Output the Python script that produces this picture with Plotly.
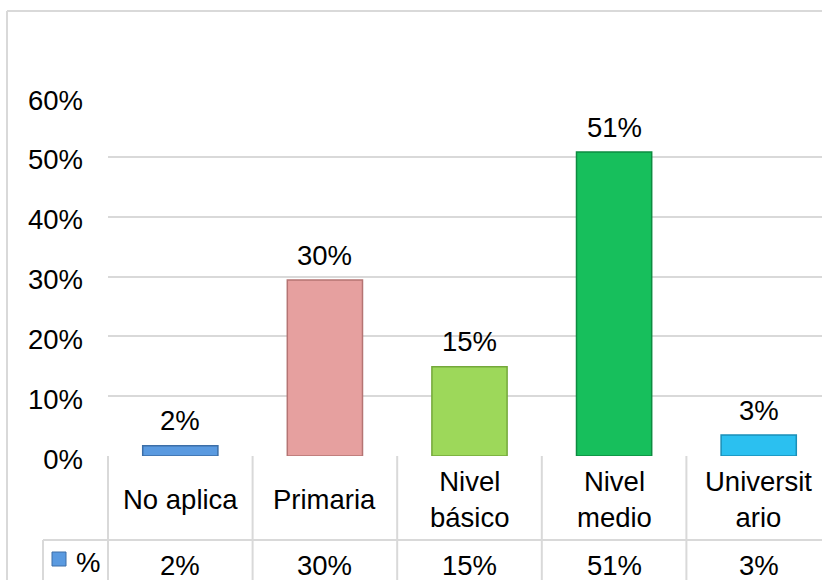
import plotly.graph_objects as go

categories = ["No aplica", "Primaria", "Nivel básico", "Nivel medio", "Universitario"]
category_labels = ["No aplica", "Primaria", "Nivel<br>básico", "Nivel<br>medio", "Universit<br>ario"]
values = [0.017, 0.294, 0.149, 0.508, 0.035]
value_labels = ["2%", "30%", "15%", "51%", "3%"]
series_name = "%"
tick_vals = [0, 0.1, 0.2, 0.3, 0.4, 0.5, 0.6]
tick_text = ["0%", "10%", "20%", "30%", "40%", "50%", "60%"]

colors = ["#5A9AE0", "#E6A09F", "#9DD85A", "#17BF5C", "#2BC0F0"]
edge = ["#3C6FA8", "#B57473", "#74A83A", "#0D8C40", "#1A8FB8"]

W, H = 822, 580
plot_left, plot_top, plot_bottom = 108, 97, 456
cat_w = 144.6
x0 = -0.5
x1 = x0 + (W - plot_left) / cat_w
plot_h = plot_bottom - plot_top
plot_w = W - plot_left

def px_x(p):
    return (p - plot_left) / plot_w

def px_y(p):
    return (plot_bottom - p) / plot_h

FONT = "Liberation Sans, Arial, sans-serif"
FS = 27.5
GRID = "#D9D9D9"

fig = go.Figure()
fig.add_trace(go.Bar(
    x=list(range(len(categories))), y=values, name=series_name,
    width=0.52,
    marker=dict(color=colors, line=dict(color=edge, width=1.5)),
    hoverinfo="y",
))

ann = []
for i, (v, t) in enumerate(zip(values, value_labels)):
    ann.append(dict(x=i, y=v, xref="x", yref="y", text=t, showarrow=False,
                    yshift=25, yanchor="middle", font=dict(size=FS, color="#000")))
for i, c in enumerate(category_labels):
    ann.append(dict(x=i, y=px_y(499), xref="x", yref="paper", text=c, showarrow=False,
                    yanchor="middle", font=dict(size=FS, color="#000")))
for i, t in enumerate(value_labels):
    ann.append(dict(x=i, y=px_y(565), xref="x", yref="paper", text=t, showarrow=False,
                    yanchor="middle", font=dict(size=FS, color="#000")))
ann.append(dict(x=px_x(88), y=px_y(562), xref="paper", yref="paper", text=series_name,
                showarrow=False, xanchor="center", yanchor="middle", font=dict(size=FS, color="#000")))

shapes = []
line = dict(color=GRID, width=2)
# outer chart border
shapes.append(dict(type="line", xref="paper", yref="paper", x0=px_x(7), x1=px_x(7),
                   y0=px_y(11), y1=px_y(600), line=line))
shapes.append(dict(type="line", xref="paper", yref="paper", x0=px_x(7), x1=1.05,
                   y0=px_y(11), y1=px_y(11), line=line))
# data table
def dx(d):
    return (d - x0) / (x1 - x0)
for k in range(len(categories) + 1):
    xp = dx(-0.5 + k)
    shapes.append(dict(type="line", xref="paper", yref="paper", x0=xp, x1=xp,
                       y0=0, y1=px_y(600), line=line))
shapes.append(dict(type="line", xref="paper", yref="paper", x0=px_x(43), x1=px_x(43),
                   y0=px_y(540), y1=px_y(600), line=line))
shapes.append(dict(type="line", xref="paper", yref="paper", x0=px_x(43), x1=1.05,
                   y0=px_y(540), y1=px_y(540), line=line))
# legend key
shapes.append(dict(type="rect", xref="paper", yref="paper", x0=px_x(52), x1=px_x(66),
                   y0=px_y(566), y1=px_y(552), fillcolor=colors[0],
                   line=dict(color=edge[0], width=1)))

fig.update_layout(
    width=W, height=H,
    margin=dict(l=plot_left, r=0, t=plot_top, b=H - plot_bottom, pad=0),
    paper_bgcolor="white", plot_bgcolor="white",
    font=dict(family=FONT, size=FS, color="#000"),
    showlegend=False,
    xaxis=dict(range=[x0, x1], showticklabels=False, showgrid=False, zeroline=False,
               showline=False, ticks="", fixedrange=True),
    yaxis=dict(range=[0, 0.6], tickvals=tick_vals, ticktext=tick_text,
               showgrid=True, gridcolor=GRID, gridwidth=2, zeroline=False,
               showline=False, ticks="", ticklabelstandoff=24, ticklabelshift=3,
               tickfont=dict(size=FS, color="#000"), fixedrange=True),
    annotations=ann,
    shapes=shapes,
)

fig.write_html("out.html", config={"displayModeBar": False})

# remove the browser's default page margin so the figure sits at the top-left corner
with open("out.html", "r", encoding="utf-8") as f:
    html = f.read()
html = html.replace("<head>", "<head><style>html,body{margin:0;padding:0;overflow:hidden;}</style>", 1)
with open("out.html", "w", encoding="utf-8") as f:
    f.write(html)
